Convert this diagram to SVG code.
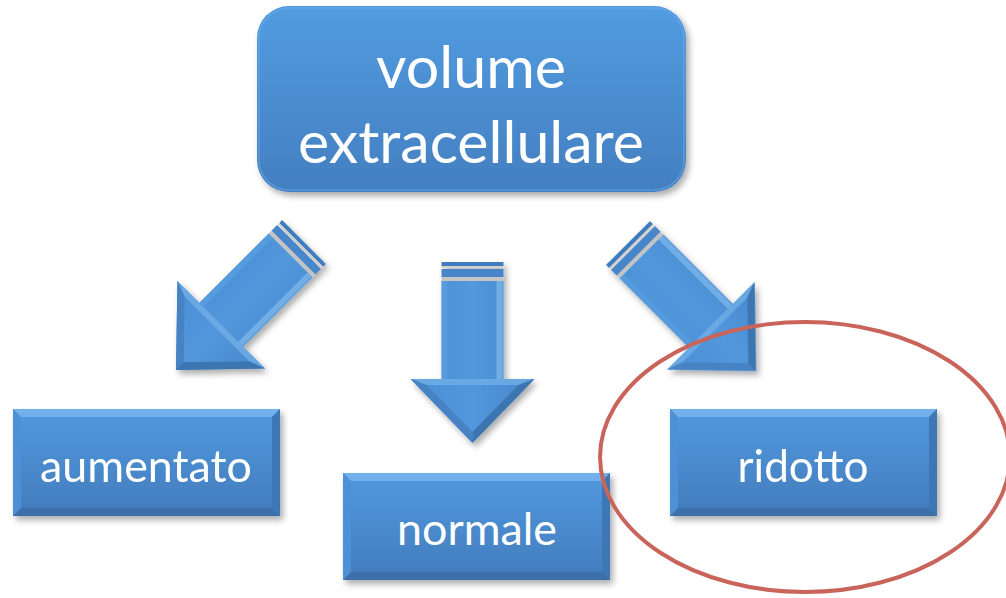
<svg xmlns="http://www.w3.org/2000/svg" xmlns:xlink="http://www.w3.org/1999/xlink" width="1006" height="598" viewBox="0 0 1006 598">
  <style>
    .lbl { font-family: Lato, "Open Sans", "Liberation Sans", sans-serif; fill: #ffffff; text-anchor: middle; }
    .big { font-size: 58px; }
    .small { font-size: 44px; }
  </style>
  <defs>
    <filter id="shadow" x="-20%" y="-20%" width="140%" height="140%">
      <feDropShadow dx="3" dy="4" stdDeviation="3" flood-color="#000" flood-opacity="0.33"/>
    </filter>
    <linearGradient id="boxGrad" x1="0" y1="0" x2="0" y2="1">
      <stop offset="0" stop-color="#5199DE"/>
      <stop offset="1" stop-color="#427CBC"/>
    </linearGradient>
    <linearGradient id="topGrad" x1="0" y1="0" x2="0" y2="1">
      <stop offset="0" stop-color="#529CE0"/>
      <stop offset="1" stop-color="#437FC0"/>
    </linearGradient>
    <linearGradient id="arrowGrad" x1="0" y1="0" x2="1" y2="0">
      <stop offset="0" stop-color="#4B8DD3"/>
      <stop offset="0.5" stop-color="#5297DC"/>
      <stop offset="1" stop-color="#4787CB"/>
    </linearGradient>
    <g id="bevelBox">
      <rect x="0" y="0" width="267" height="107" fill="url(#boxGrad)"/>
      <polygon points="0,0 267,0 259,8 8,8" fill="#72B1EC"/>
      <polygon points="0,107 267,107 259,99 8,99" fill="#3C70A9"/>
      <polygon points="0,0 8,8 8,99 0,107" fill="#4E90D5"/>
      <polygon points="267,0 259,8 259,99 267,107" fill="#3E77B5"/>
    </g>
    <g id="arrow">
      <rect x="-31" y="-181" width="62" height="4" fill="#3F7DBE"/>
      <rect x="-31" y="-177" width="62" height="2" fill="#D0D0D0"/>
      <rect x="-31" y="-174" width="62" height="8" fill="#4686C8"/>
      <rect x="-31" y="-166" width="62" height="4" fill="#C4C4C4"/>
      <path d="M-31,-162 H31 V-64 H62 L0,0 L-62,-64 H-31 Z" fill="url(#arrowGrad)"/>
      <rect x="-31" y="-162" width="6" height="98" fill="#5FA4E4" opacity="0.5"/>
      <rect x="24" y="-162" width="6" height="98" fill="#8DC6F2" opacity="0.55"/>
      <polygon points="-62,-64 62,-64 46,-58 -46,-58" fill="#74B2E8" opacity="0.7"/>
      <polygon points="-62,-64 -46,-58 0,-11 0,0" fill="#4683C4"/>
      <polygon points="62,-64 46,-58 0,-11 0,0" fill="#3C74B0"/>
    </g>
  </defs>

  <g id="connectors" filter="url(#shadow)">
    <use xlink:href="#arrow" href="#arrow" transform="translate(176,370) rotate(45)"/>
    <use xlink:href="#arrow" href="#arrow" transform="translate(472.5,443)"/>
    <use xlink:href="#arrow" href="#arrow" transform="translate(756,371) rotate(-45)"/>
  </g>

  <g id="node-volume">
    <rect x="257" y="6" width="429" height="186" rx="32" ry="32" fill="url(#topGrad)" filter="url(#shadow)"/>
    <rect x="259" y="8" width="425" height="182" rx="30" ry="30" fill="none" stroke="#6FB0EE" stroke-width="1.5" opacity="0.5"/>
    <text class="lbl big" x="471" y="88" textLength="190" lengthAdjust="spacingAndGlyphs">volume</text>
    <text class="lbl big" x="471" y="163" textLength="346" lengthAdjust="spacingAndGlyphs">extracellulare</text>
  </g>

  <g id="node-aumentato">
    <use xlink:href="#bevelBox" href="#bevelBox" x="13" y="409" filter="url(#shadow)"/>
    <text class="lbl small" x="146" y="482" textLength="212" lengthAdjust="spacingAndGlyphs">aumentato</text>
  </g>

  <g id="node-normale">
    <use xlink:href="#bevelBox" href="#bevelBox" x="343" y="473" filter="url(#shadow)"/>
    <text class="lbl small" x="477" y="545" textLength="160" lengthAdjust="spacingAndGlyphs">normale</text>
  </g>

  <g id="node-ridotto">
    <use xlink:href="#bevelBox" href="#bevelBox" x="670" y="409" filter="url(#shadow)"/>
    <text class="lbl small" x="803" y="482" textLength="131" lengthAdjust="spacingAndGlyphs">ridotto</text>
  </g>

  <g id="highlight">
    <ellipse cx="805" cy="457" rx="205" ry="135" fill="none" stroke="#C9645B" stroke-width="4"/>
  </g>
</svg>
